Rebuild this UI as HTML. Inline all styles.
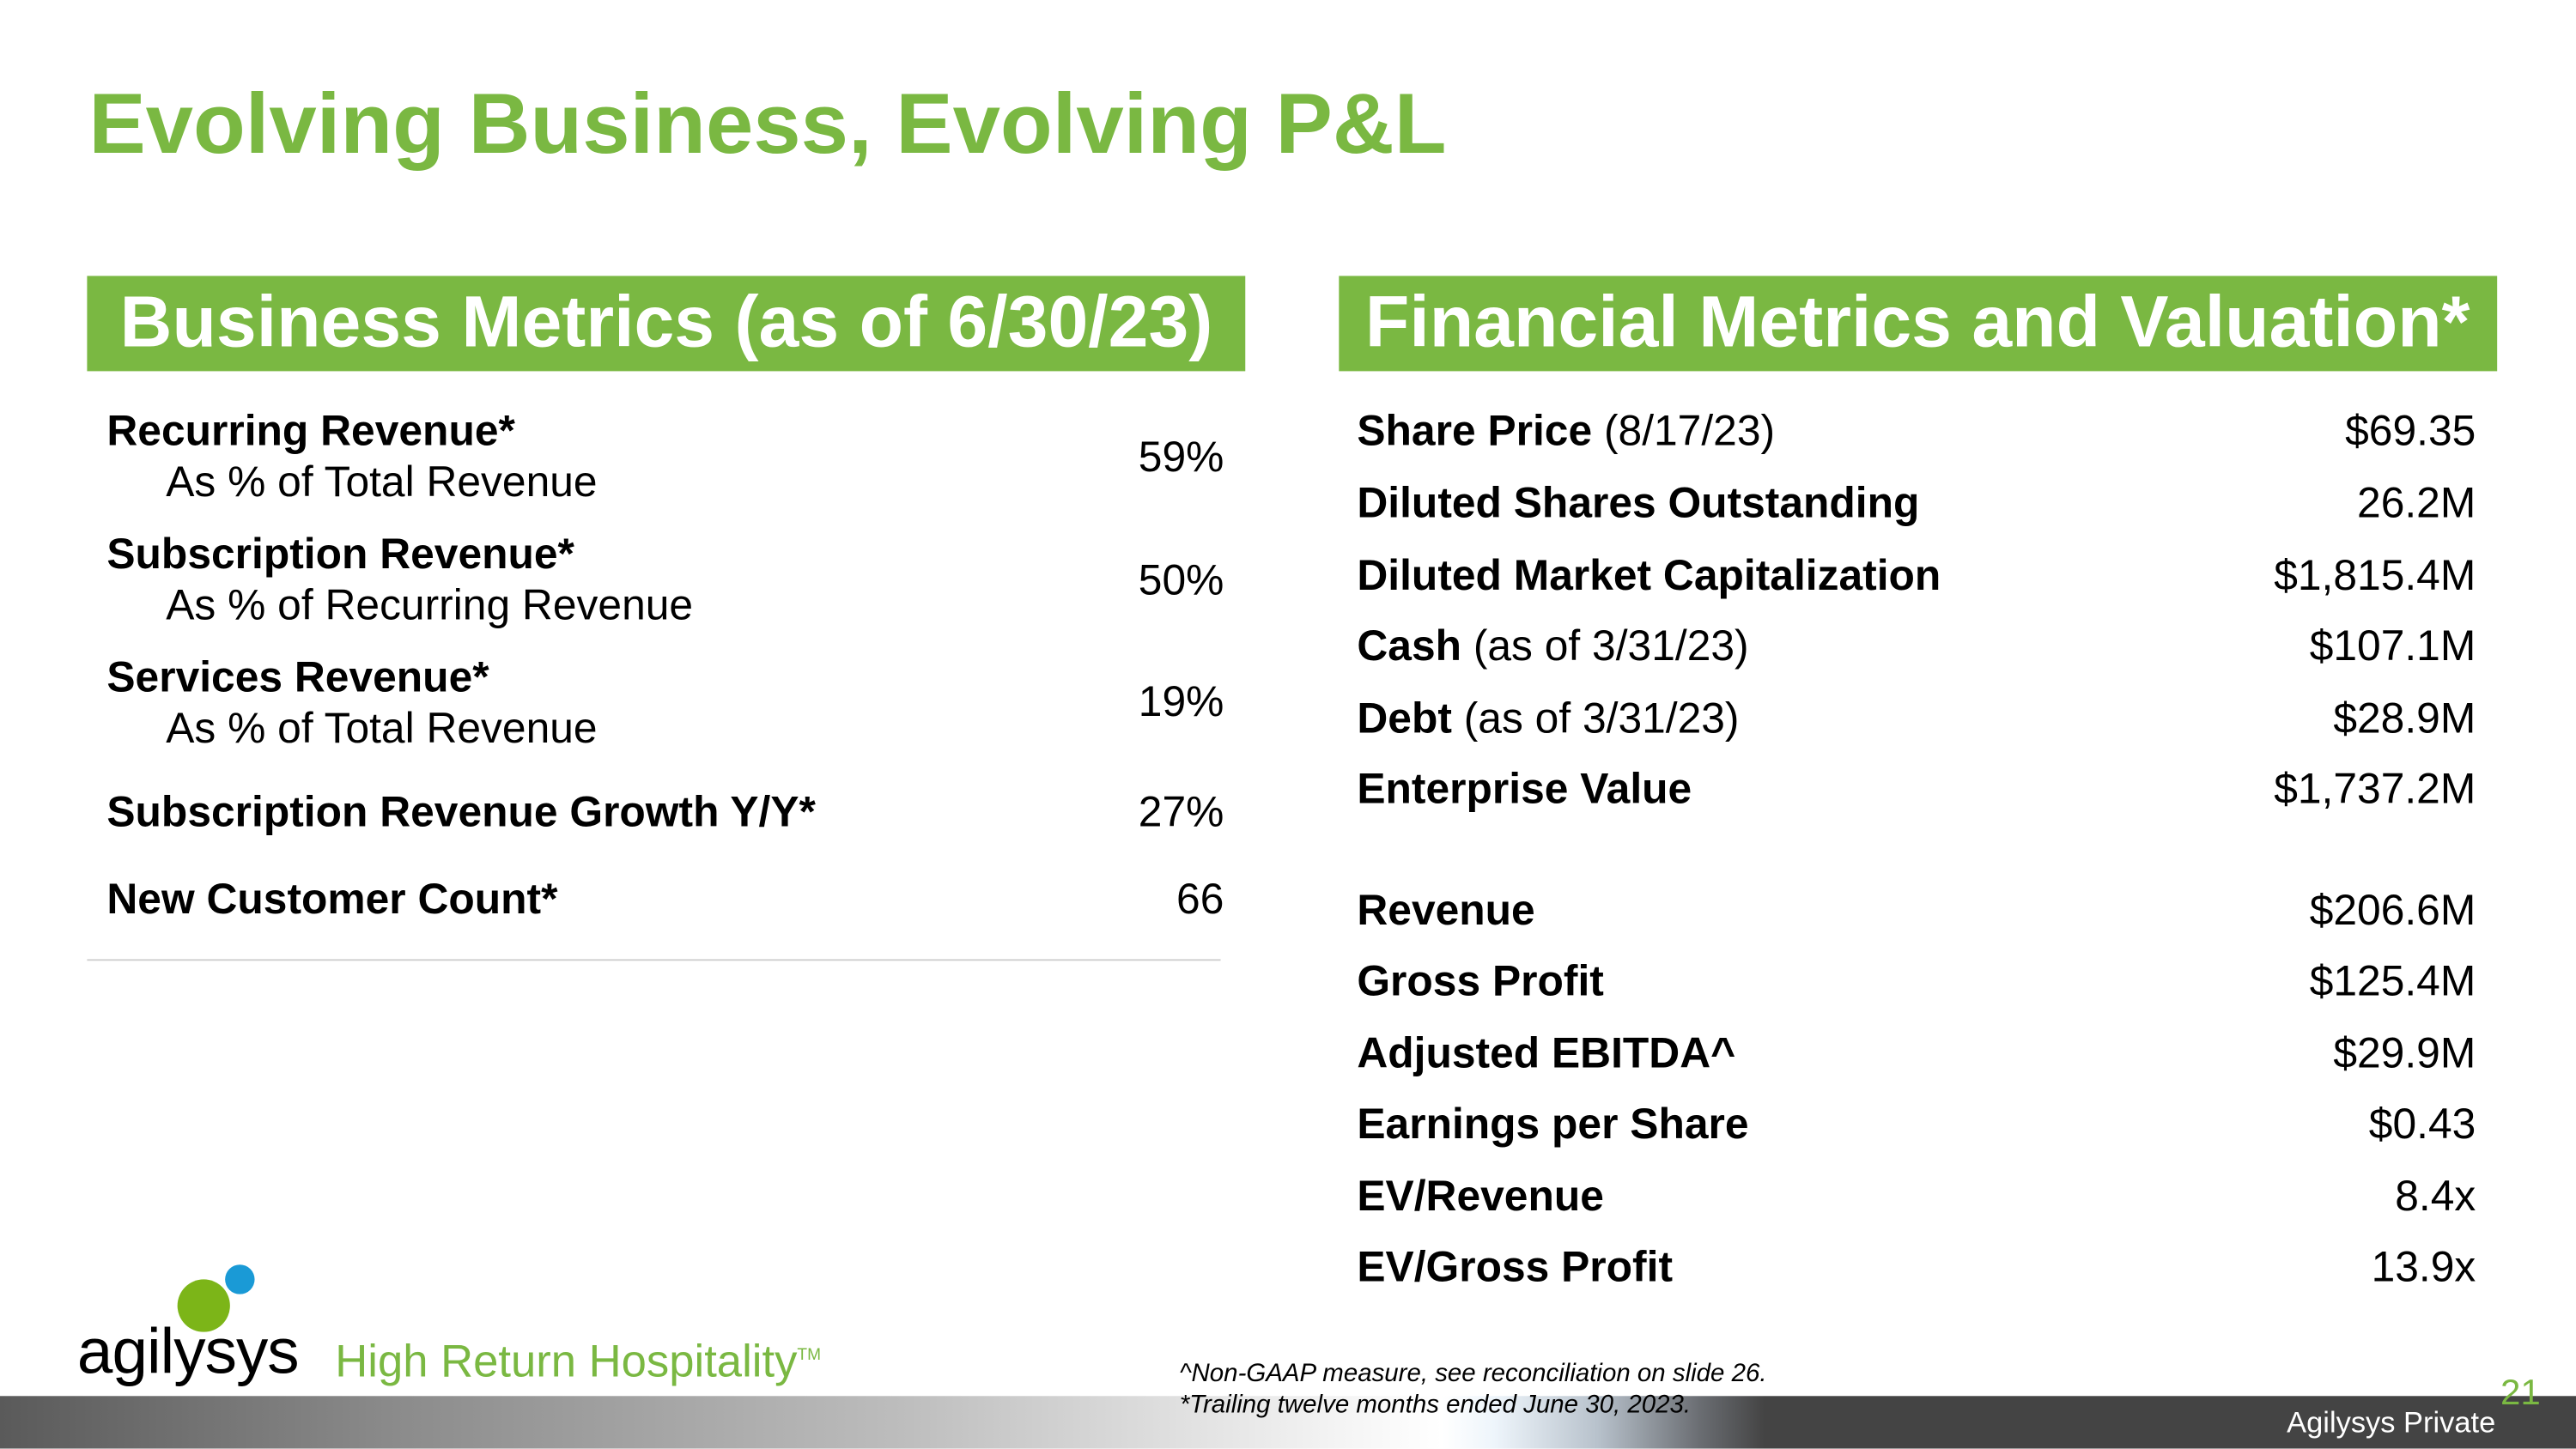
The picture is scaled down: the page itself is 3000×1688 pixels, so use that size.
<!DOCTYPE html>
<html><head><meta charset="utf-8">
<style>
html,body{margin:0;padding:0;width:3000px;height:1687px;overflow:hidden;background:#fff}
#s{position:absolute;left:0;top:0;width:1568px;height:882px;transform:scale(1.91327);transform-origin:0 0;font-family:"Liberation Sans",Arial,sans-serif;color:#000}
.a{position:absolute;white-space:nowrap}
.t{font-size:26px;line-height:26px}
.b{font-weight:bold}
.r{text-align:right}
.hdr{position:absolute;top:168px;height:58px;background:#7ab842;color:#fff;font-weight:bold;font-size:44px;line-height:58px}
</style></head><body>
<div id="s">
<div class="a b" style="left:54px;top:47px;font-size:52px;line-height:58px;color:#7ab842">Evolving Business, Evolving P&amp;L</div>

<div class="hdr" style="left:53px;width:705px;text-indent:20px">Business Metrics (as of 6/30/23)</div>
<div class="hdr" style="left:815px;width:705px;text-indent:16px">Financial Metrics and Valuation*</div>

<div class="a t b" style="left:65px;top:249px">Recurring Revenue*</div>
<div class="a t" style="left:101px;top:280px">As % of Total Revenue</div>
<div class="a t r" style="right:823px;top:265px">59%</div>
<div class="a t b" style="left:65px;top:324px">Subscription Revenue*</div>
<div class="a t" style="left:101px;top:355px">As % of Recurring Revenue</div>
<div class="a t r" style="right:823px;top:340px">50%</div>
<div class="a t b" style="left:65px;top:399px">Services Revenue*</div>
<div class="a t" style="left:101px;top:430px">As % of Total Revenue</div>
<div class="a t r" style="right:823px;top:414px">19%</div>
<div class="a t b" style="left:65px;top:481px">Subscription Revenue Growth Y/Y*</div>
<div class="a t r" style="right:823px;top:481px">27%</div>
<div class="a t b" style="left:65px;top:534px">New Customer Count*</div>
<div class="a t r" style="right:823px;top:534px">66</div>
<div class="a" style="left:53px;top:584px;width:690px;height:1px;background:#d0d0d0"></div>

<div class="a t" style="left:826px;top:249px"><b>Share Price</b> (8/17/23)</div>
<div class="a t r" style="right:61px;top:249px">$69.35</div>
<div class="a t b" style="left:826px;top:293px">Diluted Shares Outstanding</div>
<div class="a t r" style="right:61px;top:293px">26.2M</div>
<div class="a t b" style="left:826px;top:337px">Diluted Market Capitalization</div>
<div class="a t r" style="right:61px;top:337px">$1,815.4M</div>
<div class="a t" style="left:826px;top:380px"><b>Cash</b> (as of 3/31/23)</div>
<div class="a t r" style="right:61px;top:380px">$107.1M</div>
<div class="a t" style="left:826px;top:424px"><b>Debt</b> (as of 3/31/23)</div>
<div class="a t r" style="right:61px;top:424px">$28.9M</div>
<div class="a t b" style="left:826px;top:467px">Enterprise Value</div>
<div class="a t r" style="right:61px;top:467px">$1,737.2M</div>
<div class="a t b" style="left:826px;top:541px">Revenue</div>
<div class="a t r" style="right:61px;top:541px">$206.6M</div>
<div class="a t b" style="left:826px;top:584px">Gross Profit</div>
<div class="a t r" style="right:61px;top:584px">$125.4M</div>
<div class="a t b" style="left:826px;top:628px">Adjusted EBITDA^</div>
<div class="a t r" style="right:61px;top:628px">$29.9M</div>
<div class="a t b" style="left:826px;top:671px">Earnings per Share</div>
<div class="a t r" style="right:61px;top:671px">$0.43</div>
<div class="a t b" style="left:826px;top:715px">EV/Revenue</div>
<div class="a t r" style="right:61px;top:715px">8.4x</div>
<div class="a t b" style="left:826px;top:758px">EV/Gross Profit</div>
<div class="a t r" style="right:61px;top:758px">13.9x</div>

<div class="a" style="left:0;top:850px;width:1568px;height:32px;background:linear-gradient(90deg,#5a5a5a 0%,#8a8a8a 15%,#bdbdbd 35%,#f4f4f4 52%,#ffffff 56%,#eef5fb 58%,#b8c2cc 62%,#6a6d72 66%,#444 68.5%,#444 100%)"></div>

<div class="a" style="left:108px;top:779px;width:32px;height:32px;border-radius:50%;background:#7cb518"></div>
<div class="a" style="left:137px;top:770px;width:18px;height:18px;border-radius:50%;background:#1a9ad6"></div>
<div class="a" style="left:47px;top:802px;font-size:39px;line-height:44px;letter-spacing:-0.5px">agilysys</div>
<div class="a" style="left:204px;top:810px;font-size:27.5px;line-height:32px;color:#7ab842">High Return Hospitality<sup style="font-size:10px">TM</sup></div>

<div class="a" style="left:718px;top:828px;font-size:15.4px;line-height:17px;font-style:italic">^Non-GAAP measure, see reconciliation on slide 26.</div>
<div class="a" style="left:718px;top:847px;font-size:15.4px;line-height:17px;font-style:italic">*Trailing twelve months ended June 30, 2023.</div>
<div class="a" style="left:1522px;top:836px;font-size:22px;line-height:24px;color:#7ab842">21</div>
<div class="a" style="right:49px;top:856px;font-size:18px;line-height:21px;color:#fff">Agilysys Private</div>
</div>
</body></html>
